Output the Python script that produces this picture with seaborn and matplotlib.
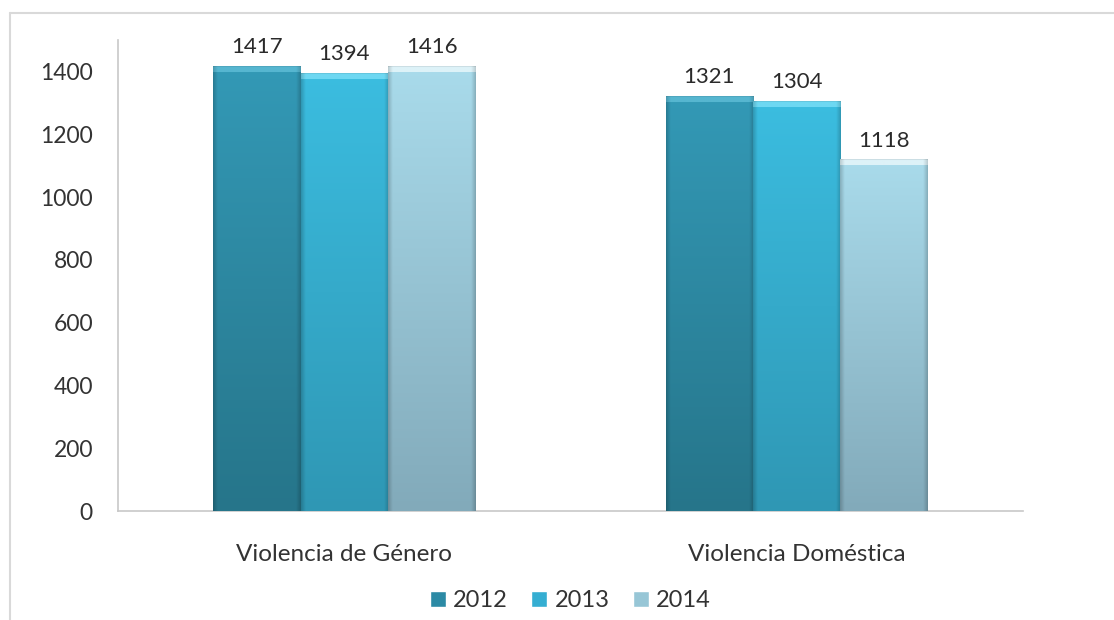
import numpy as np
import pandas as pd
import matplotlib
matplotlib.use("Agg")
import matplotlib.pyplot as plt
import seaborn as sns
from matplotlib.lines import Line2D
from matplotlib.colors import to_rgb

categories = ["Violencia de Género", "Violencia Doméstica"]
years = ["2012", "2013", "2014"]
values_2012 = [1417, 1321]
values_2013 = [1394, 1304]
values_2014 = [1416, 1118]
y_ticks = [0, 200, 400, 600, 800, 1000, 1200, 1400]

colors_mid = {"2012": "#2C8AA5", "2013": "#35AED2", "2014": "#97C6D6"}
colors_top = {"2012": "#3399B6", "2013": "#3BBDE0", "2014": "#A9DBEB"}
colors_bot = {"2012": "#26758A", "2013": "#2F97B4", "2014": "#82AABA"}
colors_cap = {"2012": "#56B6D0", "2013": "#6ED8F2", "2014": "#DDF2F8"}

sns.set_theme(style="white")
plt.rcParams["font.family"] = ["Lato", "DejaVu Sans"]

df = pd.DataFrame({
    "cat": categories * 3,
    "year": [years[0]] * 2 + [years[1]] * 2 + [years[2]] * 2,
    "val": values_2012 + values_2013 + values_2014,
})

fig = plt.figure(figsize=(11.14, 6.2), dpi=100)
ax = fig.add_axes([118 / 1114, 1 - 511 / 620, (1023 - 118) / 1114, (511 - 40) / 620])

sns.barplot(data=df, x="cat", y="val", hue="year", palette=colors_mid,
            width=0.58, ax=ax, errorbar=None, saturation=1, legend=True)

ax.set_ylim(0, 1500)
ax.set_xlim(-0.5, 1.5)

# gradient overlay on each bar
px_per_unit = (511 - 40) / 1500.0
bars = [p for p in ax.patches]
order = [y for y in years for _ in categories]
for patch, yr in zip(bars, order):
    x0 = patch.get_x()
    w = patch.get_width()
    h = patch.get_height()
    if h <= 0:
        continue
    nrows = max(int(h * px_per_unit), 2)
    ncols = 90
    t = np.linspace(0, 1, nrows)[:, None]
    top = np.array(to_rgb(colors_top[yr]))
    bot = np.array(to_rgb(colors_bot[yr]))
    cap = np.array(to_rgb(colors_cap[yr]))
    img = bot[None, None, :] * (1 - t[..., None]) + top[None, None, :] * t[..., None]
    img = np.repeat(img, ncols, axis=1)
    xs = np.linspace(0, 1, ncols)
    edge = np.clip(np.minimum(xs, 1 - xs) / 0.05, 0, 1)
    dark = 0.82 + 0.18 * edge
    img = img * dark[None, :, None]
    capn = 6
    img[-capn:, :, :] = cap[None, None, :] * (0.85 + 0.15 * edge[None, :, None])
    img[-1, :, :] = img[-1, :, :] * 0.92
    img = np.clip(img, 0, 1)
    ax.imshow(img, extent=[x0, x0 + w, 0, h], origin="lower", aspect="auto",
              interpolation="bilinear", zorder=3, clip_path=patch, clip_on=True)
    ax.text(x0 + w / 2, h + 30, f"{int(h)}", ha="center", va="bottom",
            fontsize=16, color="#2a2a2a")

ax.set_ylim(0, 1500)
ax.set_xlim(-0.5, 1.5)
ax.set_yticks(y_ticks)
ax.set_yticklabels([str(v) for v in y_ticks], fontsize=16.5, color="#333333")
ax.tick_params(axis="y", length=0, pad=18)
ax.tick_params(axis="x", length=0, pad=24, labelsize=17.5, labelcolor="#333333")
ax.set_xlabel("")
ax.set_ylabel("")
for s in ["top", "right"]:
    ax.spines[s].set_visible(False)
for s in ["left", "bottom"]:
    ax.spines[s].set_color("#C8C8C8")
    ax.spines[s].set_linewidth(1.2)

handles, labels = ax.get_legend_handles_labels()
for hnd, lab in zip(handles, labels):
    hnd.set_facecolor(colors_mid[lab])
ax.legend(handles, labels, loc="center", bbox_to_anchor=(0.5, -0.191),
          ncol=3, frameon=False, fontsize=17, handlelength=0.68, handleheight=0.68,
          handletextpad=0.3, columnspacing=1.0, labelcolor="#333333")

fig.add_artist(Line2D([10 / 1114, 1.0], [1 - 13 / 620, 1 - 13 / 620],
                      transform=fig.transFigure, color="#D9D9D9", lw=1.5))
fig.add_artist(Line2D([10 / 1114, 10 / 1114], [0, 1 - 13 / 620],
                      transform=fig.transFigure, color="#D9D9D9", lw=1.5))

fig.savefig("out.png", dpi=100)
